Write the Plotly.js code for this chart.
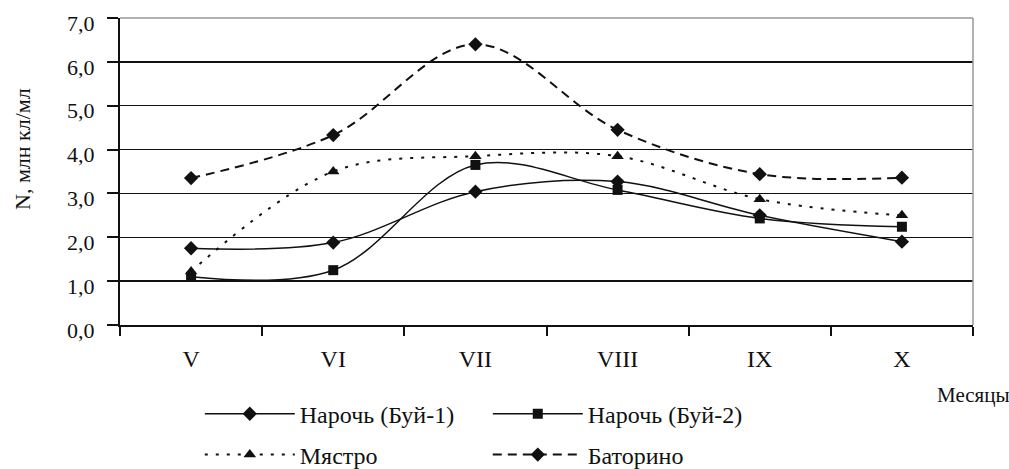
<!DOCTYPE html>
<html>
<head>
<meta charset="utf-8">
<script src="https://cdn.plot.ly/plotly-3.0.1.min.js"></script>
<style>
html,body{margin:0;padding:0;background:#fff;}
#chart{width:1009px;height:469px;}
</style>
</head>
<body>
<div id="chart"></div>
<script>
var months = ['V', 'VI', 'VII', 'VIII', 'IX', 'X'];
var naroch1 = [1.75, 1.88, 3.04, 3.27, 2.50, 1.90];
var naroch2 = [1.10, 1.25, 3.65, 3.08, 2.43, 2.24];
var myastro = [1.22, 3.50, 3.85, 3.85, 2.87, 2.50];
var batorino = [3.35, 4.33, 6.40, 4.45, 3.44, 3.36];
var seriesNames = ['Нарочь (Буй-1)', 'Нарочь (Буй-2)', 'Мястро', 'Баторино'];
var yTitle = 'N, млн кл/мл';
var xTitle = 'Месяцы';

var FONT = "'Liberation Serif', 'Times New Roman', Times, serif";

var traces = [
  {x: months, y: naroch1, name: seriesNames[0], type: 'scatter', mode: 'lines+markers',
   line: {color: '#111', width: 1.5, shape: 'spline', smoothing: 1},
   marker: {symbol: 'diamond', size: 11, color: '#111'}, legend: 'legend'},
  {x: months, y: naroch2, name: seriesNames[1], type: 'scatter', mode: 'lines+markers',
   line: {color: '#111', width: 1.5, shape: 'spline', smoothing: 1},
   marker: {symbol: 'square', size: 10, color: '#111'}, legend: 'legend'},
  {x: months, y: myastro, name: seriesNames[2], type: 'scatter', mode: 'lines+markers',
   line: {color: '#111', width: 2, shape: 'spline', smoothing: 1, dash: '3px,8px'},
   marker: {symbol: 'triangle-up', size: 11, color: '#111'}, legend: 'legend2'},
  {x: months, y: batorino, name: seriesNames[3], type: 'scatter', mode: 'lines+markers',
   line: {color: '#111', width: 2, shape: 'spline', smoothing: 1, dash: '9px,6px'},
   marker: {symbol: 'diamond', size: 11, color: '#111'}, legend: 'legend2'}
];

var legendBase = {
  orientation: 'h', xanchor: 'left', yanchor: 'middle',
  xref: 'container', yref: 'container',
  font: {family: FONT, size: 24, color: '#111'},
  itemwidth: 90, entrywidth: 183, entrywidthmode: 'pixels',
  bgcolor: 'rgba(0,0,0,0)', borderwidth: 0
};

var layout = {
  width: 1009, height: 469,
  margin: {l: 120, r: 36, t: 18, b: 144},
  paper_bgcolor: '#fff', plot_bgcolor: '#fff',
  separators: ', ',
  font: {family: FONT, size: 20, color: '#111'},
  showlegend: true,
  legend: Object.assign({}, legendBase, {x: 0.198, y: 0.117}),
  legend2: Object.assign({}, legendBase, {x: 0.198, y: 0.030}),
  xaxis: {
    type: 'category', categoryarray: months, range: [-0.5, 5.5],
    tickson: 'boundaries', ticks: 'outside', ticklen: 9, tickwidth: 2, tickcolor: '#111',
    showline: true, linecolor: '#111', linewidth: 2, showgrid: false, zeroline: false,
    tickfont: {family: FONT, size: 24, color: '#111'}, ticklabelstandoff: 11
  },
  yaxis: {
    range: [0, 7], dtick: 1, tick0: 0, tickformat: '.1f',
    ticks: 'outside', ticklen: 11, tickwidth: 2, tickcolor: '#111',
    showline: true, linecolor: '#111', linewidth: 2,
    showgrid: true, gridcolor: '#111', gridwidth: 1.5, zeroline: false,
    tickfont: {family: FONT, size: 22, color: '#111'}, ticklabelstandoff: 8, ticklabelshift: 5
  },
  shapes: [
    {type: 'line', xref: 'paper', yref: 'paper', x0: 0, x1: 1, y0: 1, y1: 1, line: {color: '#999', width: 1.5}},
    {type: 'line', xref: 'paper', yref: 'paper', x0: 1, x1: 1, y0: 0, y1: 1, line: {color: '#999', width: 1.5}}
  ],
  annotations: [
    {text: yTitle, xref: 'paper', yref: 'paper', x: -0.115, y: 0.573, textangle: -90,
     showarrow: false, xanchor: 'center', yanchor: 'middle', font: {family: FONT, size: 22, color: '#111'}},
    {text: xTitle, xref: 'paper', yref: 'paper', x: 1.001, y: -0.228,
     showarrow: false, xanchor: 'center', yanchor: 'middle', font: {family: FONT, size: 21, color: '#111'}}
  ]
};

Plotly.newPlot('chart', traces, layout, {staticPlot: true, displayModeBar: false});
</script>
</body>
</html>
